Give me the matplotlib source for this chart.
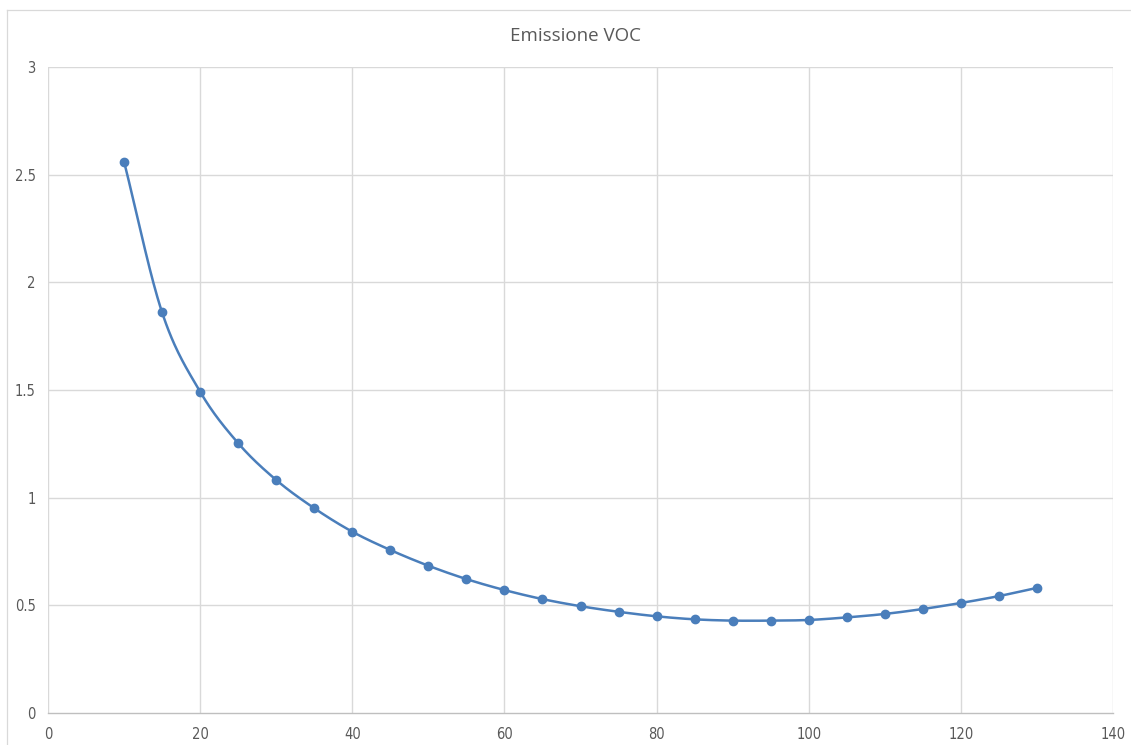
import numpy as np
import matplotlib
matplotlib.use("Agg")
import matplotlib.pyplot as plt
from matplotlib.lines import Line2D

# Speed values and VOC emission
speed = [10, 15, 20, 25, 30, 35, 40, 45, 50, 55, 60, 65, 70,
         75, 80, 85, 90, 95, 100, 105, 110, 115, 120, 125, 130]
voc = [2.56, 1.86, 1.492, 1.253, 1.082, 0.951, 0.842, 0.757, 0.684,
       0.622, 0.571, 0.529, 0.496, 0.470, 0.449, 0.435, 0.429, 0.429,
       0.432, 0.444, 0.460, 0.483, 0.511, 0.543, 0.581]

x_ticks = [0, 20, 40, 60, 80, 100, 120, 140]
y_ticks = [0, 0.5, 1, 1.5, 2, 2.5, 3]
y_labels = ["0", "0.5", "1", "1.5", "2", "2.5", "3"]
title = "Emissione VOC"


def smooth_curve(xs, ys, n=40):
    """Catmull-Rom style smoothing through every data point."""
    xs = np.asarray(xs, float)
    ys = np.asarray(ys, float)
    px = np.concatenate([[2 * xs[0] - xs[1]], xs, [2 * xs[-1] - xs[-2]]])
    py = np.concatenate([[2 * ys[0] - ys[1]], ys, [2 * ys[-1] - ys[-2]]])
    outx, outy = [], []
    t = np.linspace(0, 1, n, endpoint=False)
    for i in range(1, len(px) - 2):
        p0, p1, p2, p3 = (np.array([px[j], py[j]]) for j in (i - 1, i, i + 1, i + 2))
        c1 = p1 + (p2 - p0) / 6
        c2 = p2 - (p3 - p1) / 6
        tt = t[:, None]
        pts = ((1 - tt) ** 3) * p1 + 3 * ((1 - tt) ** 2) * tt * c1 \
            + 3 * (1 - tt) * tt ** 2 * c2 + tt ** 3 * p2
        outx.extend(pts[:, 0])
        outy.extend(pts[:, 1])
    outx.append(xs[-1])
    outy.append(ys[-1])
    return np.array(outx), np.array(outy)


W, H = 1131, 745
fig = plt.figure(figsize=(W / 100, H / 100), dpi=100)
fig.patch.set_facecolor("white")

# chart area frame (top and left edges)
fig.add_artist(Line2D([7 / W, 7 / W], [0, 1 - 10 / H], transform=fig.transFigure,
                      color="#d9d9d9", lw=0.9))
fig.add_artist(Line2D([7 / W, 1], [1 - 10 / H, 1 - 10 / H], transform=fig.transFigure,
                      color="#d9d9d9", lw=0.9))

left, right, top, bottom = 48, 1113, 67, 713
ax = fig.add_axes([left / W, 1 - bottom / H, (right - left) / W, (bottom - top) / H])
ax.set_xlim(0, 140)
ax.set_ylim(0, 3)

grid_c = "#d9d9d9"
for xv in x_ticks:
    ax.axvline(xv, color=grid_c, lw=1.0, zorder=0)
for yv in y_ticks[1:]:
    ax.axhline(yv, color=grid_c, lw=1.0, zorder=0)

for s in ("top", "right", "left"):
    ax.spines[s].set_visible(False)
ax.spines["bottom"].set_color("#bfbfbf")
ax.spines["bottom"].set_linewidth(1.0)

ax.set_xticks(x_ticks)
ax.set_xticklabels([str(v) for v in x_ticks])
ax.set_yticks(y_ticks)
ax.set_yticklabels(y_labels)
ax.tick_params(length=0, colors="#595959", labelsize=10.5)
ax.tick_params(axis="x", pad=10)
ax.tick_params(axis="y", pad=9)
for lab in ax.get_xticklabels() + ax.get_yticklabels():
    lab.set_family("DejaVu Sans")
    lab.set_fontstretch("condensed")

sx, sy = smooth_curve(speed, voc)
ax.plot(sx, sy, color="#4a7ebb", lw=1.8, zorder=3, solid_capstyle="round")
ax.plot(speed, voc, "o", color="#4a7ebb", ms=6, zorder=4)

fig.text(575 / W, 1 - 36 / H, title, ha="center", va="center",
         fontsize=13.5, color="#595959", family=["Open Sans", "DejaVu Sans"])

fig.savefig("out.png", dpi=100, facecolor="white")
